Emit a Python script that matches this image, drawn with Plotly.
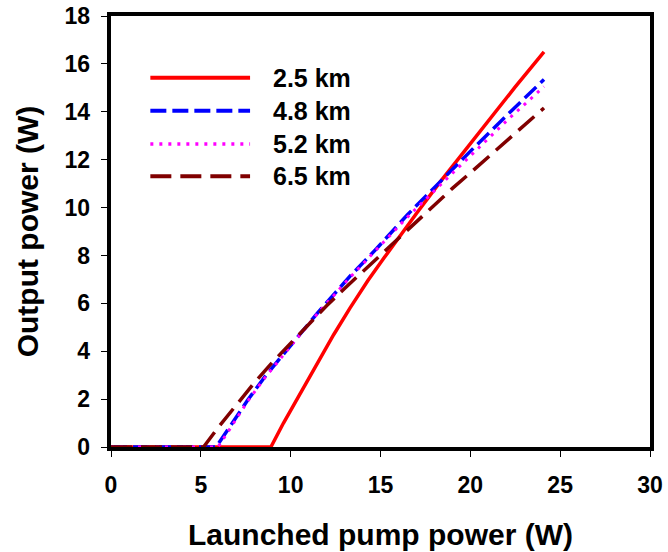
import plotly.graph_objects as go

# ---- data ----
x_25 = [0, 8.9, 9.6, 10.5, 11.5, 12.4, 13.3, 14.3, 15.2, 16.0, 17.0, 18.3, 19.5, 21.0, 22.5, 24.1]
y_25 = [0, 0, 1.0, 2.2, 3.5, 4.7, 5.8, 6.95, 7.9, 8.75, 9.75, 11.05, 12.2, 13.62, 15.04, 16.5]

x_48 = [0, 5.85, 6.5, 7.6, 8.6, 9.7, 11.5, 13.3, 14.8, 16.5, 18.3, 20.2, 22.1, 24.1]
y_48 = [0, 0, 0.72, 1.95, 2.97, 3.97, 5.6, 7.13, 8.3, 9.7, 11.08, 12.5, 13.9, 15.35]

x_52 = [0, 5.95, 6.5, 7.6, 8.6, 9.7, 11.5, 13.3, 14.8, 16.5, 18.3, 20.2, 22.1, 24.1]
y_52 = [0, 0, 0.62, 1.9, 2.93, 3.95, 5.58, 7.08, 8.25, 9.6, 10.92, 12.3, 13.68, 15.05]

x_65 = [0, 5.15, 6.0, 7.0, 8.0, 9.0, 10.0, 11.0, 12.0, 13.0, 14.0, 15.0, 16.0, 17.0,
        18.0, 19.0, 20.0, 21.0, 22.0, 23.0, 24.1]
y_65 = [0, 0, 0.85, 1.8, 2.7, 3.55, 4.35, 5.15, 5.9, 6.62, 7.32, 8.0, 8.68, 9.4,
        10.1, 10.8, 11.45, 12.1, 12.75, 13.4, 14.16]

labels = ["2.5 km", "4.8 km", "5.2 km", "6.5 km"]
x_ticks = [0, 5, 10, 15, 20, 25, 30]
y_ticks = [0, 2, 4, 6, 8, 10, 12, 14, 16, 18]

series = [
    (x_25, y_25, "#ff0000", "solid", 3.5),
    (x_48, y_48, "#0000ff", "16px,6px", 3.5),
    (x_52, y_52, "#ff00ff", "3px,6px", 3),
    (x_65, y_65, "#800000", "21px,9px", 3.5),
]

FONT = "Liberation Sans, Arial, sans-serif"

fig = go.Figure()
for (xs, ys, col, dash, w), name in zip(series, labels):
    fig.add_trace(go.Scatter(x=xs, y=ys, mode="lines", name=name,
                             line=dict(color=col, dash=dash, width=w),
                             showlegend=False))

# custom legend (long sample lines like the reference)
leg_y = [0.857, 0.780, 0.703, 0.628]
for (xs, ys, col, dash, w), name, ly in zip(series, labels, leg_y):
    fig.add_shape(type="line", xref="paper", yref="paper",
                  x0=0.073, x1=0.258, y0=ly, y1=ly,
                  line=dict(color=col, dash=dash, width=w + 0.5))
    fig.add_annotation(xref="paper", yref="paper", x=0.297, y=ly,
                       text=name, showarrow=False, xanchor="left", yanchor="middle",
                       font=dict(family=FONT, size=25, color="black", weight="bold"))

axis_common = dict(showline=True, linecolor="black", linewidth=4, mirror=True,
                   ticks="outside", ticklen=6, tickwidth=1, tickcolor="black",
                   showgrid=False, zeroline=False, automargin=False,
                   tickfont=dict(family=FONT, size=23, color="black", weight="bold"))

fig.update_layout(
    width=668, height=552,
    margin=dict(l=111, r=18, t=16, b=105),
    paper_bgcolor="white", plot_bgcolor="white",
    xaxis=dict(range=[0, 30], tickvals=x_ticks, ticktext=[str(v) for v in x_ticks],
               ticklabelstandoff=8,
               title=dict(text="Launched pump power (W)", standoff=28,
                          font=dict(family=FONT, size=30, color="black", weight="bold")),
               **axis_common),
    yaxis=dict(range=[0, 18], tickvals=y_ticks,
               ticktext=[f"{v}\u00a0" for v in y_ticks],
               title=dict(text="Output power (W)", standoff=18,
                          font=dict(family=FONT, size=30, color="black", weight="bold")),
               **axis_common),
)

fig.write_html("out.html")
